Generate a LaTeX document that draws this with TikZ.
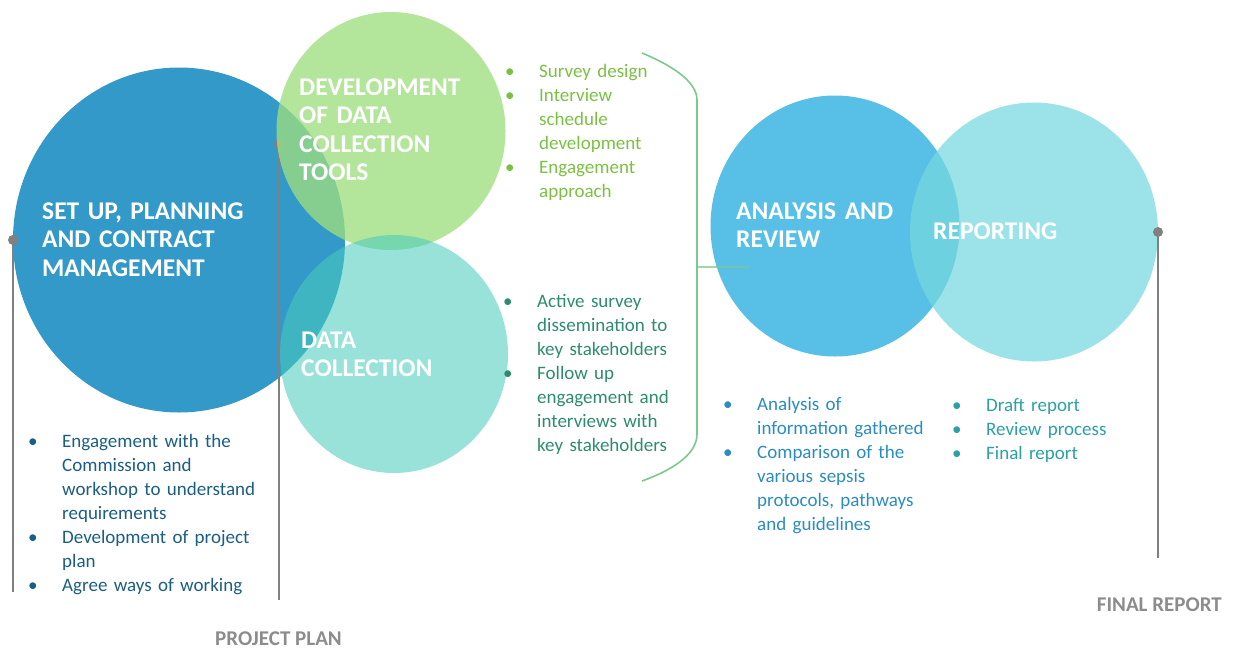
\documentclass[tikz,border=0pt]{standalone}
\usepackage{fontspec}
\setmainfont{Carlito}
\usetikzlibrary{shapes.geometric}

\definecolor{setupblue}{RGB}{51,153,200}
\definecolor{toolgreen}{RGB}{158,222,127}
\definecolor{collteal}{RGB}{71,204,187}
\definecolor{anablue}{RGB}{88,191,230}
\definecolor{repcyan}{RGB}{118,216,223}
\definecolor{pingray}{RGB}{128,128,128}
\definecolor{bracegreen}{RGB}{124,201,142}
\definecolor{txtgreen}{RGB}{122,193,66}
\definecolor{txtdkgreen}{RGB}{44,140,110}
\definecolor{txtnavy}{RGB}{27,94,131}
\definecolor{txtblue}{RGB}{43,140,192}
\definecolor{txtteal}{RGB}{43,161,166}
\definecolor{labelgray}{RGB}{140,140,140}

% one bullet point with a hanging indent; \nl breaks a line inside it
\newcommand{\nl}{\hfil\break}
\newcommand{\bitem}[1]{\hangindent=34pt\hangafter=1\noindent\makebox[34pt][l]{\textbullet}#1\par}
% bold phase titles with tighter word spaces
\newcommand{\titlefont}{\fontsize{25.5}{28.5}\selectfont\bfseries\spaceskip=4.5pt\relax}

\begin{document}
\begin{tikzpicture}[x=1pt,y=-1pt,
  phase/.style={ellipse, inner sep=0pt},
  title/.style={anchor=base west, inner sep=0pt, align=left, text width=260pt, text=white,
    font=\titlefont},
  points/.style={anchor=base west, inner sep=0pt, align=left, text width=260pt,
    font=\fontsize{19}{24}\selectfont},
  pin/.style={circle, fill=pingray, minimum size=10pt, inner sep=0pt},
  pinline/.style={draw=pingray, line width=2pt},
  brace/.style={draw=bracegreen, line width=1.6pt},
  milestone/.style={inner sep=0pt, text=labelgray, font=\fontsize{21}{25}\selectfont\bfseries}]

\useasboundingbox (0,0) rectangle (1238,648);

% set-up phase
\node[phase, fill=setupblue, minimum width=332pt, minimum height=345pt] (setup) at (179,240) {};
\node[pin] (pinA) at (13,240) {};
\coordinate (pinAend) at (13,592);
\draw[pinline] (pinA.center) -- (pinAend);

% project plan marker
\coordinate (pinB) at (279,144);
\coordinate (pinBend) at (279,600);
\draw[pinline] (pinB) -- (pinBend);
\fill[pingray] (pinB) circle (5pt);

% data tools and data collection
\node[phase, fill=toolgreen, fill opacity=0.78, minimum width=229pt, minimum height=238pt] (tools) at (391,131) {};
\node[phase, fill=collteal, fill opacity=0.56, minimum width=228pt, minimum height=238pt] (collect) at (394,354) {};

% brace gathering both data phases
\coordinate (bTop) at (642,53);
\coordinate (bUp) at (697,100);
\coordinate (bLow) at (697,434);
\coordinate (bBot) at (642,481);
\coordinate (bMid) at (697,267);
\coordinate (bTip) at (750,267);
\draw[brace] (bTop) .. controls (678,68) and (697,84) .. (bUp) -- (bLow)
  .. controls (697,452) and (678,468) .. (bBot);

% analysis and reporting
\node[phase, fill=anablue, minimum width=249pt, minimum height=261pt] (analysis) at (835,226) {};
\node[phase, fill=repcyan, fill opacity=0.73, minimum width=248pt, minimum height=259pt] (report) at (1034,232) {};
\draw[brace, draw opacity=0.75] (bMid) -- (bTip);

% final report marker
\node[pin] (pinC) at (1158,232) {};
\coordinate (pinCend) at (1158,558);
\draw[pinline] (pinC.center) -- (pinCend);

% phase titles
\node[title] (tSetup) at (42,219) {SET UP, PLANNING\\AND CONTRACT\\MANAGEMENT};
\node[title] (tTools) at (299,95) {DEVELOPMENT\\OF DATA\\COLLECTION\\TOOLS};
\node[title] (tCollect) at (301,348) {DATA\\COLLECTION};
\node[title] (tAnalysis) at (736,219) {ANALYSIS AND\\REVIEW};
\node[title] (tReport) at (933,239) {REPORTING};

% activity lists
\node[points, text=txtgreen] (lTools) at (505,77) {%
  \bitem{Survey design}%
  \bitem{Interview\nl schedule\nl development}%
  \bitem{Engagement\nl approach}};
\node[points, text=txtdkgreen] (lCollect) at (503,307) {%
  \bitem{Active survey\nl dissemination to\nl key stakeholders}%
  \bitem{Follow up\nl engagement and\nl interviews with\nl key stakeholders}};
\node[points, text=txtnavy] (lSetup) at (28,447) {%
  \bitem{Engagement with the\nl Commission and\nl workshop to understand\nl requirements}%
  \bitem{Development of project\nl plan}%
  \bitem{Agree ways of working}};
\node[points, text=txtblue] (lAnalysis) at (723,410) {%
  \bitem{Analysis of\nl information gathered}%
  \bitem{Comparison of the\nl various sepsis\nl protocols, pathways\nl and guidelines}};
\node[points, text=txtteal] (lReport) at (952,411) {%
  \bitem{Draft report}%
  \bitem{Review process}%
  \bitem{Final report}};

% milestones
\node[milestone, anchor=base west] (mPlan) at (215,645) {PROJECT PLAN};
\node[milestone, anchor=base east] (mFinal) at (1222,611) {FINAL REPORT};

\end{tikzpicture}
\end{document}
